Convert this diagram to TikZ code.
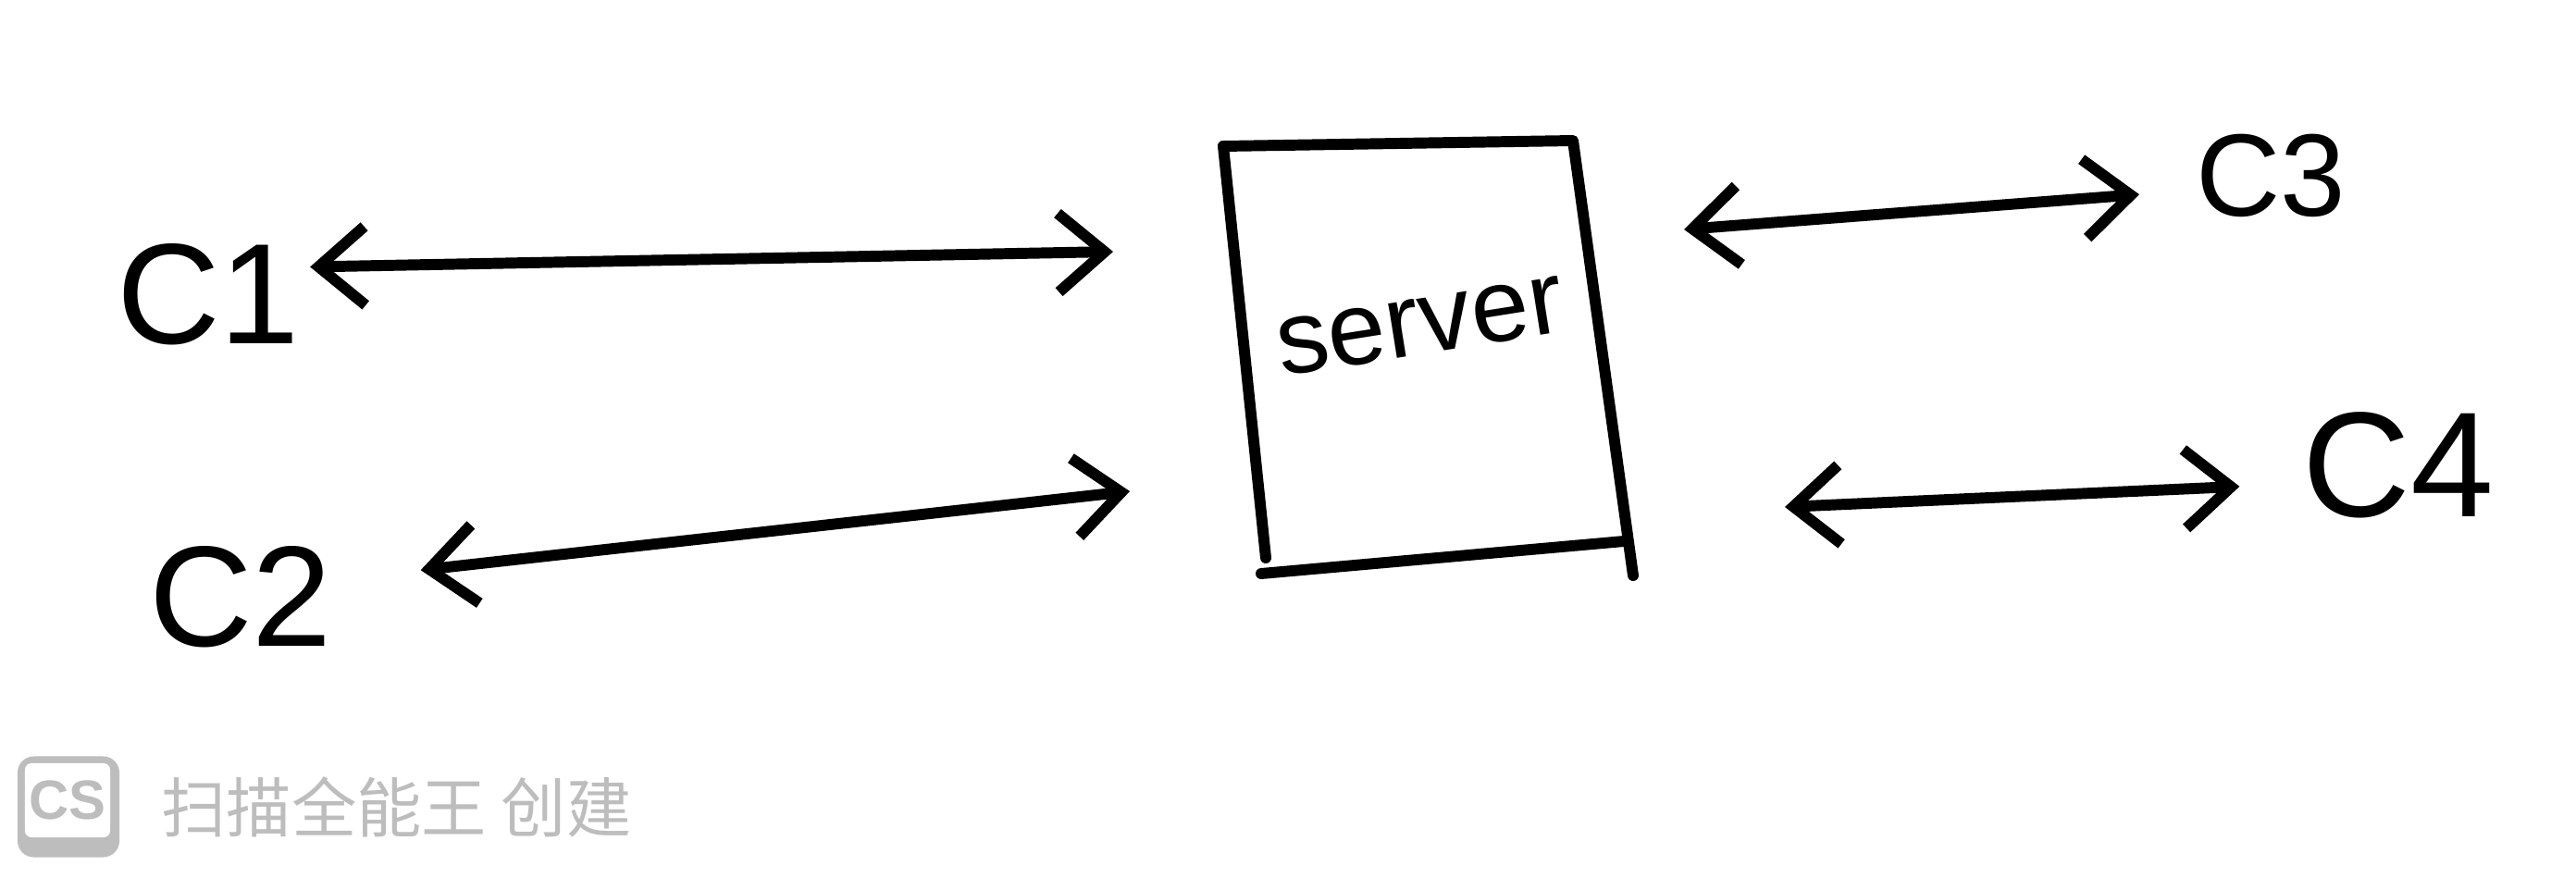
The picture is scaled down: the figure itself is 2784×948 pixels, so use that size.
\documentclass[tikz,border=0pt]{standalone}
\usepackage{fontspec}
\setmainfont{Liberation Sans}
\newfontfamily\cjkfont{Noto Sans CJK SC}
\usetikzlibrary{arrows.meta}
\definecolor{wmgray}{RGB}{189,189,189}

\begin{document}
\begin{tikzpicture}[x=0.01cm, y=-0.01cm,
  client/.style={inner sep=3pt, font=\fontsize{44}{44}\selectfont},
  ink/.style={line width=3.4pt, line cap=round, line join=round},
  link/.style={ink, {Straight Barb[length=5mm,width=8.5mm]}-{Straight Barb[length=5mm,width=8.5mm]}}
]
\useasboundingbox (0,0) rectangle (2784,948);

% server box, drawn in single strokes
\draw[ink] (1322,158) -- (1700,152) -- (1765,622);
\draw[ink] (1322,158) -- (1368,603);
\draw[ink] (1363,620) -- (1755,585);
\node[rotate=9, font=\fontsize{32}{32}\selectfont] (server) at (1535,353) {server};

% clients
\node[client] (c1) at (225,318) {C1};
\node[client] (c2) at (260,645) {C2};
\node[client, font=\fontsize{36}{36}\selectfont] (c3) at (2454,190) {C3};
\node[client, font=\fontsize{46}{46}\selectfont] (c4) at (2592,503) {C4};

\coordinate (s1) at (1203,272);
\coordinate (s2) at (1221,531);
\coordinate (s3) at (1820,248);
\coordinate (s4) at (1929,548);

\draw[link] (c1.15) -- (s1);
\draw[link, shorten <=0.85cm] (c2.10) -- (s2);
\draw[link, shorten >=0.5cm] (s3) -- (c3.190);
\draw[link, shorten >=0.57cm] (s4) -- (c4.190);

% scanner mark
\node[fill=wmgray, rounded corners=5pt, minimum width=1.1cm, minimum height=1.09cm, inner sep=0pt] (logo) at (74,872) {};
\node[fill=white, rounded corners=2pt, minimum width=0.92cm, minimum height=0.8cm, inner sep=0pt,
  text=wmgray, font=\bfseries\fontsize{17}{17}\selectfont] (logotext) at (73,865) {CS};
\node[anchor=west, text=wmgray, font=\cjkfont\fontsize{20}{20}\selectfont] (mark) at (162,872) {扫描全能王 创建};
\end{tikzpicture}
\end{document}
